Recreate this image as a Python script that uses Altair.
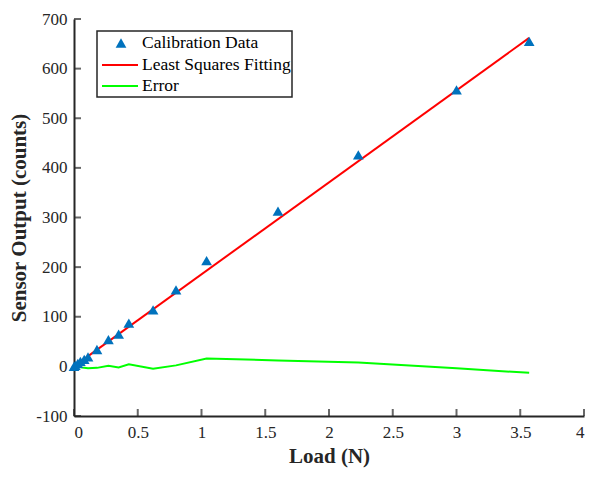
import altair as alt
import pandas as pd

load = [0.0, 0.01, 0.03, 0.05, 0.08, 0.11, 0.18, 0.27, 0.35, 0.43, 0.62, 0.80, 1.04, 1.60, 2.23, 3.00, 3.57]
output = [0, 2, 6, 10, 14, 19, 34, 54, 65, 87, 114, 154, 213, 313, 426, 557, 655]
error = [0, -1, -1, -2, -3, -4, -3, 1, -2, 4, -5, 2, 16, 12, 8, -4, -13]
fit_load = [0.01, 3.57]
fit_output = [2, 662]

x_ticks = [0, 0.5, 1, 1.5, 2, 2.5, 3, 3.5, 4]
y_ticks = [-100, 0, 100, 200, 300, 400, 500, 600, 700]

series = ["Calibration Data", "Least Squares Fitting", "Error"]
colors = ["#0072BD", "#FF0000", "#00FF00"]

FONT = "Liberation Serif"
AX = "#262626"

df_pts = pd.DataFrame({"x": load, "y": output})
df_fit = pd.DataFrame({"x": fit_load, "y": fit_output})
df_err = pd.DataFrame({"x": load, "y": error})
df_xt = pd.DataFrame({"x": x_ticks, "y": [y_ticks[0]] * len(x_ticks)})
df_yt = pd.DataFrame({"x": [x_ticks[0]] * len(y_ticks), "y": y_ticks})

xs = alt.Scale(domain=[0, 4], nice=False)
ys = alt.Scale(domain=[-100, 700], nice=False)

xaxis = alt.Axis(values=x_ticks, title="Load (N)", ticks=False, grid=False,
                 labelExpr="'' + datum.value", labelPadding=8, titlePadding=5)
yaxis = alt.Axis(values=y_ticks, title="Sensor Output (counts)", ticks=False, grid=False,
                 labelExpr="'' + datum.value", labelPadding=7, titlePadding=6)

pts = alt.Chart(df_pts).mark_point(shape="triangle-up", filled=True, size=115, opacity=1,
                                   color=colors[0]).encode(
    x=alt.X("x:Q", scale=xs, axis=xaxis), y=alt.Y("y:Q", scale=ys, axis=yaxis))
fit = alt.Chart(df_fit).mark_line(strokeWidth=2, color=colors[1]).encode(x="x:Q", y="y:Q")
err = alt.Chart(df_err).mark_line(strokeWidth=2, color=colors[2]).encode(x="x:Q", y="y:Q")
xt = alt.Chart(df_xt).mark_tick(orient="vertical", size=7, thickness=2, color=AX, yOffset=-3.5).encode(
    x="x:Q", y="y:Q")
yt = alt.Chart(df_yt).mark_tick(orient="horizontal", size=7, thickness=2, color=AX, xOffset=3.5).encode(
    x="x:Q", y="y:Q")

# legend (drawn in plot-area pixel space)
one = pd.DataFrame({"s": [0]})
box = alt.Chart(one).mark_rect(fill="white", stroke=AX, strokeWidth=1.5).encode(
    x=alt.value(23), x2=alt.value(218), y=alt.value(12), y2=alt.value(78))
lg_tri = alt.Chart(one).mark_point(shape="triangle-up", filled=True, size=115, opacity=1,
                                   color=colors[0]).encode(x=alt.value(47), y=alt.value(24))
lg_fit = alt.Chart(one).mark_rule(strokeWidth=2, color=colors[1]).encode(
    x=alt.value(28), x2=alt.value(64), y=alt.value(46))
lg_err = alt.Chart(one).mark_rule(strokeWidth=2, color=colors[2]).encode(
    x=alt.value(28), x2=alt.value(64), y=alt.value(67))
lg_txt = [
    alt.Chart(pd.DataFrame({"s": [name]})).mark_text(
        font=FONT, fontSize=17.5, color="black", align="left", baseline="middle").encode(
        text="s:N", x=alt.value(68), y=alt.value(yy))
    for name, yy in zip(series, [24, 46, 67])
]

chart = alt.layer(xt, yt, fit, err, pts, box, lg_tri, lg_fit, lg_err, *lg_txt).properties(
    width=510, height=397, autosize=alt.AutoSizeParams(type="none"),
    padding={"left": 66, "top": 11, "right": 5, "bottom": 55}
).configure_view(stroke=None).configure_axis(
    domainColor=AX, domainWidth=2, labelFont=FONT, labelFontSize=17, labelColor=AX,
    titleFont=FONT, titleFontSize=21, titleFontWeight="bold", titleColor=AX
)

chart.save("out.html", embed_options={"renderer": "svg", "actions": False})
